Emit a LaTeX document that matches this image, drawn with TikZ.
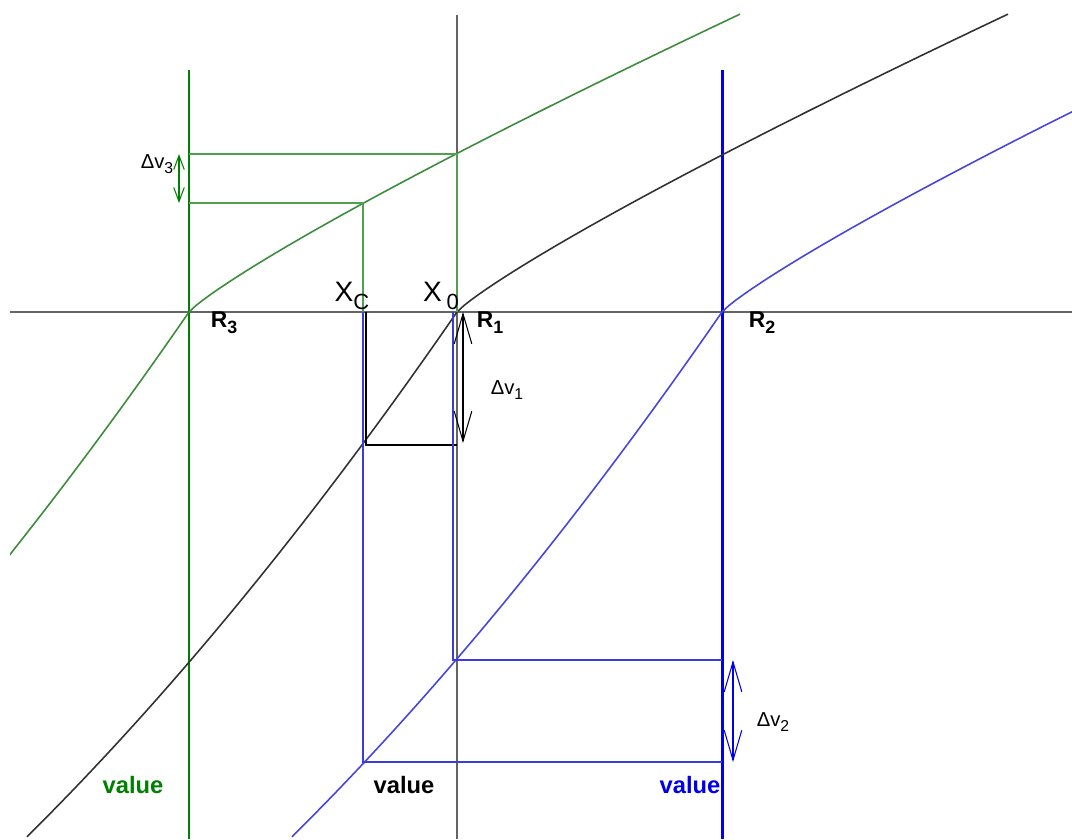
\documentclass[tikz,border=0pt]{standalone}
\usepackage{fontspec}
\setmainfont{Liberation Sans}
\usetikzlibrary{arrows.meta}

\definecolor{dkgreen}{RGB}{0,128,0}
\definecolor{thingreen}{RGB}{80,160,80}
\definecolor{curvegreen}{RGB}{60,140,60}
\definecolor{dkblue}{RGB}{0,0,235}
\definecolor{thinblue}{RGB}{60,60,220}
\definecolor{curveblue}{RGB}{70,70,220}
\definecolor{curveblack}{RGB}{50,50,50}
\definecolor{axisgray}{RGB}{100,100,100}

\newcommand{\lowsub}[1]{\raisebox{-0.5ex}{\fontsize{0.78em}{0.78em}\selectfont #1}}

\begin{document}
\begin{tikzpicture}[x=0.02cm,y=-0.02cm,
	thinline/.style={line width=0.6pt},
	curve/.style={line width=0.9pt},
	bigbar/.style={line width=1.7pt},
	dvarrow/.style={line width=0.6pt,{Straight Barb[length=17pt,width=10pt]}-{Straight Barb[length=17pt,width=10pt]}},
	smallarrow/.style={line width=0.6pt,{Straight Barb[length=8pt,width=6pt]}-{Straight Barb[length=8pt,width=6pt]}},
	rlabel/.style={font=\fontsize{13}{13}\selectfont\bfseries},
	xlabel/.style={font=\fontsize{16}{16}\selectfont},
	dvlabel/.style={font=\fontsize{11.5}{11.5}\selectfont},
	vallabel/.style={font=\fontsize{13.5}{13.5}\selectfont\bfseries}]
		\useasboundingbox (0,0) rectangle (1072,839);
		% Reference points
		\coordinate (R3) at (189,312);
		\coordinate (R1) at (457,312);
		\coordinate (R2) at (722,312);
		\coordinate (G1) at (457,154);
		\coordinate (G2) at (363,203);
		\coordinate (K1) at (366,445);
		\coordinate (B1) at (453,660);
		\coordinate (B2) at (363,762);
		% Draw axes
		\draw[axisgray,thinline] (10,312) -- (1072,312);
		\draw[axisgray,thinline] (457,15) -- (G1);
		\draw[axisgray,thinline] (R1) -- (457,839);
		% Thick verticals
		\draw[dkgreen,bigbar] (189,70) -- (189,839);
		\draw[dkblue,bigbar] (722,70) -- (722,839);
		% Curves: same shape moved to R3, R1, R2
		\begin{scope}
			\clip (10,0) rectangle (1072,839);
			\foreach \rx/\col in {189/curvegreen, 457/curveblack, 722/curveblue}{
				\draw[curve,\col,shift={(\rx,312)}] plot[domain=0:430,samples=40] ({-\x},{1.45*\x-0.000527*\x*\x});
				\draw[curve,\col,shift={(\rx,312)}] plot[domain=0.01:551,samples=80] (\x,{-1.19*pow(\x,0.875)});
			}
		\end{scope}
		% Green construction lines
		\draw[thingreen,thinline] (189,154) -- (G1) -- (R1);
		\draw[thingreen,thinline] (189,203) -- (G2) -- (363,312);
		% Black construction lines
		\draw[black,thinline] (366,312) -- (K1) -- (457,445);
		% Blue construction lines
		\draw[thinblue,thinline] (363,312) -- (B2) -- (722,762);
		\draw[thinblue,thinline] (453,312) -- (B1) -- (722,660);
		% Delta arrows
		\draw[dvarrow,black] (463,312) -- (463,443);
		\draw[dvarrow,dkblue] (733,660) -- (733,762);
		\draw[smallarrow,dkgreen] (179,154) -- (179,203);
		% Labels
		\node[rlabel] (r3) at (224,323) {R\lowsub{3}};
		\node[rlabel] (r1) at (490,323) {R\lowsub{1}};
		\node[rlabel] (r2) at (762,323) {R\lowsub{2}};
		\node[xlabel] (xc) at (352,296) {X\lowsub{C}};
		\node[xlabel] (x0) at (441,296) {X\,\lowsub{0}};
		\node[dvlabel] (dv1) at (507,390) {Δv\lowsub{1}};
		\node[dvlabel] (dv2) at (773,722) {Δv\lowsub{2}};
		\node[dvlabel] (dv3) at (157,164) {Δv\lowsub{3}};
		\node[vallabel,dkgreen] (val3) at (133,785) {value};
		\node[vallabel,black] (val1) at (404,785) {value};
		\node[vallabel,dkblue] (val2) at (690,785) {value};
	\end{tikzpicture}
\end{document}
